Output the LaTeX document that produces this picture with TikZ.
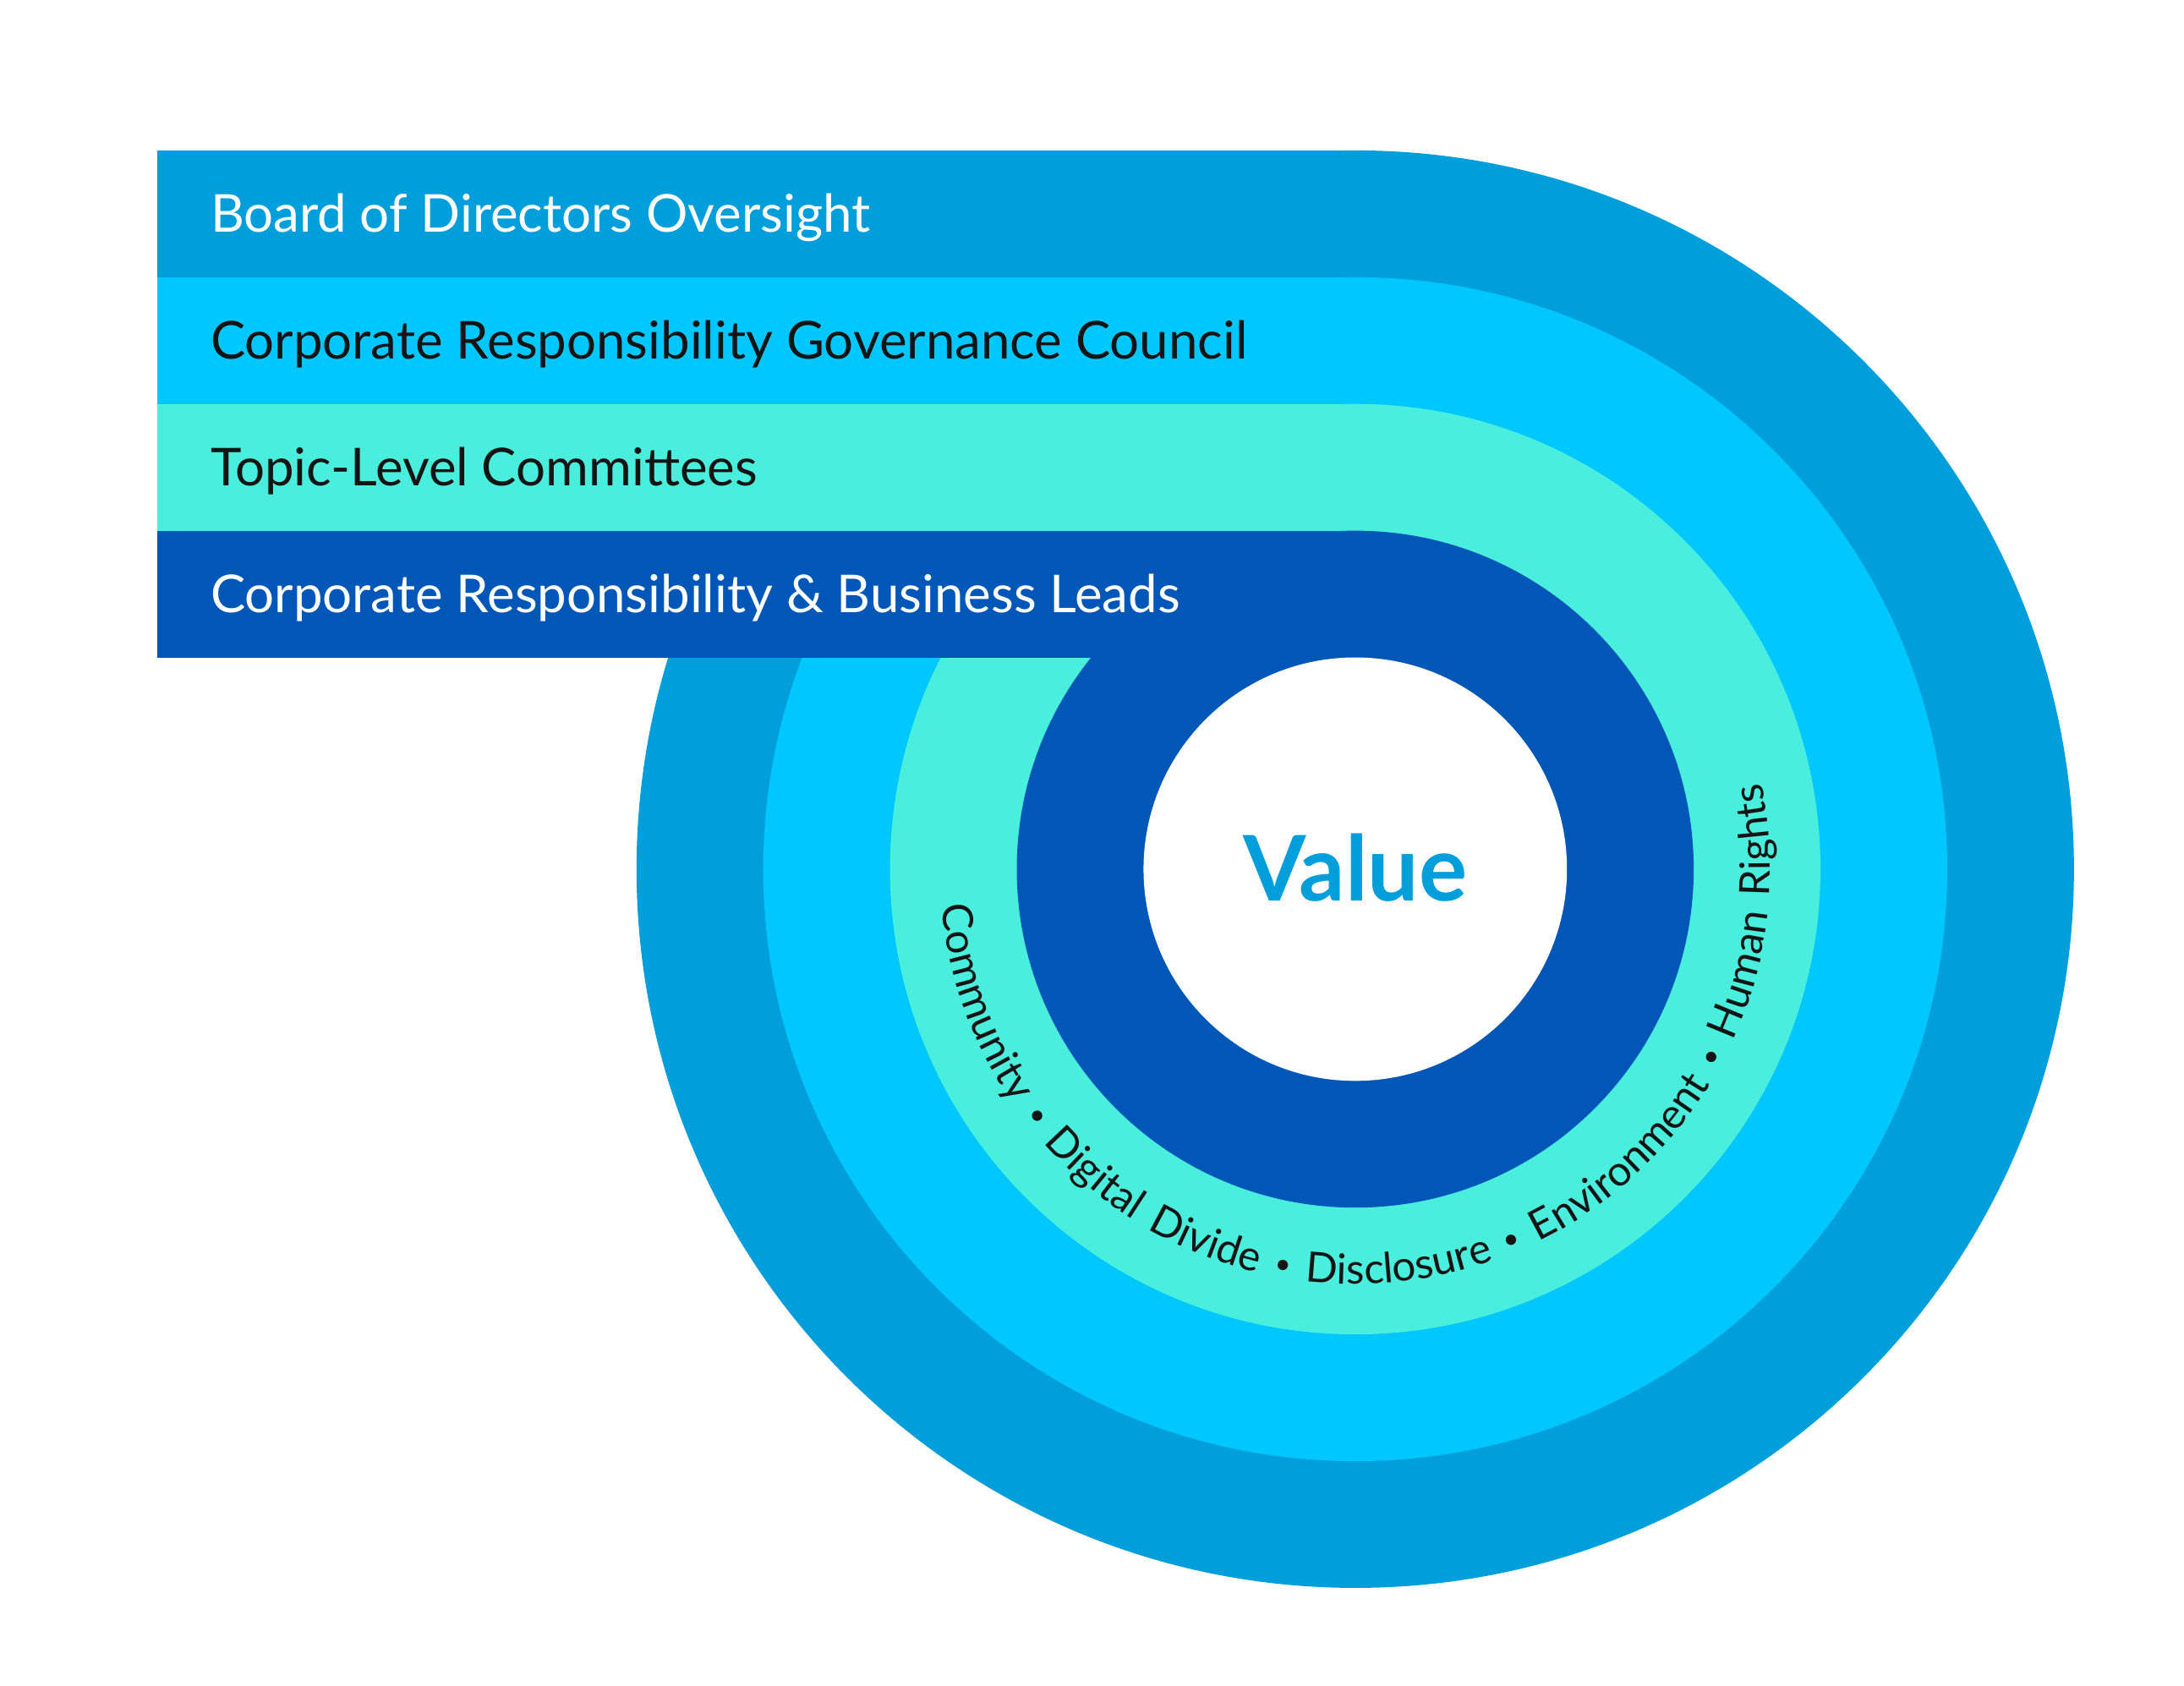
\documentclass[tikz,border=0pt]{standalone}
\usepackage{fontspec}
\setmainfont{Lato}
\usepackage{xcolor}
\usetikzlibrary{decorations.text}
\definecolor{attblue}{HTML}{009FDB}
\definecolor{attsky}{HTML}{00C8FF}
\definecolor{attteal}{HTML}{49EEDC}
\definecolor{attnavy}{HTML}{0057B8}
\definecolor{attink}{HTML}{141414}
\newcommand{\bandfont}{\fontsize{37.5}{42}\selectfont}
\newcommand{\arcfont}{\fontsize{30}{34}\selectfont}
\newcommand{\arcdot}{\raisebox{3pt}{\fontsize{20}{20}\selectfont •}}
\tikzset{bandlabel/.style={anchor=base west, inner sep=0, font=\bandfont}}

\begin{document}
\begin{tikzpicture}[x=1pt,y=1pt]
\useasboundingbox (-973,-586) rectangle (595,624);
\fill[white] (-973,-586) rectangle (595,624);
% rings and bars, outside in
\foreach \r/\c in {516/attblue, 425/attsky, 334/attteal, 243/attnavy} {
 \fill[\c] (0,0) circle (\r);
 \fill[\c] (-860,\r) rectangle (0,\r-91);
}
\fill[white] (0,0) circle (152);
\node[bandlabel, white] (board) at (-822,457.1) {Board of Directors Oversight};
\node[bandlabel, attink] (council) at (-822,366.1) {Corporate Responsibility Governance Council};
\node[bandlabel, attink] (topic) at (-822,275.1) {Topic-Level Committees};
\node[bandlabel, white] (leads) at (-822,184.1) {Corporate Responsibility \& Business Leads};
\node[font=\bfseries\fontsize{65}{68}\selectfont, text=attblue, anchor=base, inner sep=0] (value) at (0,-23) {Value};
\path[decorate, decoration={text along path, text color=attink,
 text={|\arcfont|Community {\arcdot} Digital Divide {\arcdot} Disclosure {\arcdot} Environment {\arcdot} Human Rights},
 text align={fit to path stretching spaces}}]
 (185:298) arc[start angle=185, end angle=372, radius=298];
\end{tikzpicture}
\end{document}
